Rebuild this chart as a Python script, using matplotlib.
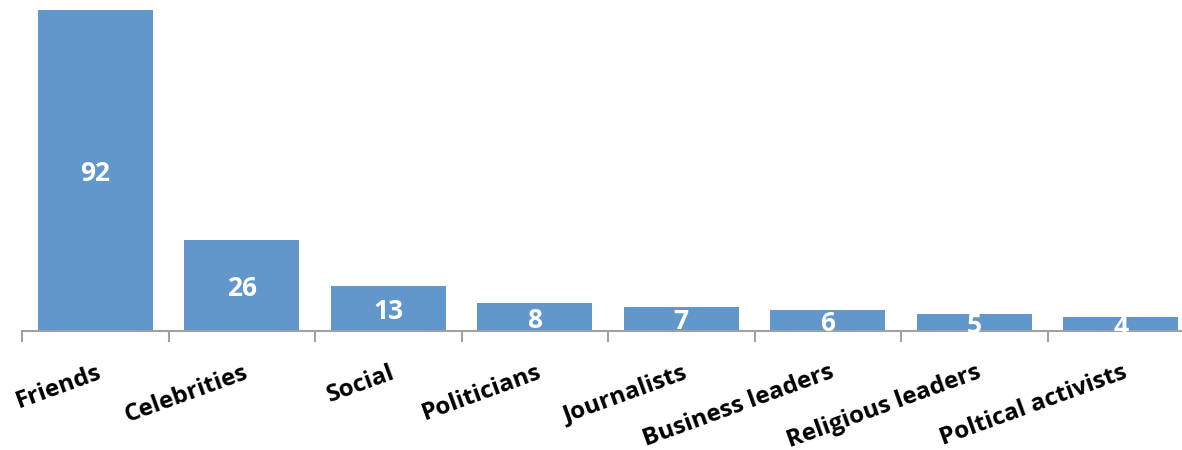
import matplotlib
matplotlib.use('Agg')
import matplotlib.pyplot as plt

categories = ['Friends', 'Celebrities', 'Social', 'Politicians', 'Journalists',
              'Business leaders', 'Religious leaders', 'Poltical activists']
values = [92, 26, 13, 8, 7, 6, 5, 4]

plt.rcParams['font.family'] = ['Open Sans', 'DejaVu Sans']

fig = plt.figure(figsize=(11.82, 4.5), dpi=100)
ax = fig.add_axes([22/1182, 119/450, 1172/1182, 321/450])

x = range(len(categories))
bars = ax.bar(x, values, width=0.785, color='#6197CB')

for b, v in zip(bars, values):
    ax.text(b.get_x() + b.get_width()/2, v/2, str(v), ha='center', va='center_baseline',
            color='white', fontsize=19, fontweight='bold')

ax.set_xlim(-0.5, len(categories) - 0.5)
ax.set_ylim(0, 92)

for s in ['top', 'right', 'left']:
    ax.spines[s].set_visible(False)
ax.spines['bottom'].set_color('#A0A0A0')
ax.spines['bottom'].set_linewidth(1.5)
ax.set_yticks([])

ax.set_xticks([i - 0.5 for i in range(len(categories) + 1)])
ax.set_xticklabels([])
ax.tick_params(axis='x', length=8, width=1.5, color='#A0A0A0')

for i, c in enumerate(categories):
    ax.text(i + 0.01, -8.5, c, rotation=20, rotation_mode='anchor', ha='right', va='top',
            fontsize=17.5, fontweight='bold', color='black')

fig.savefig('out.png', dpi=100)
